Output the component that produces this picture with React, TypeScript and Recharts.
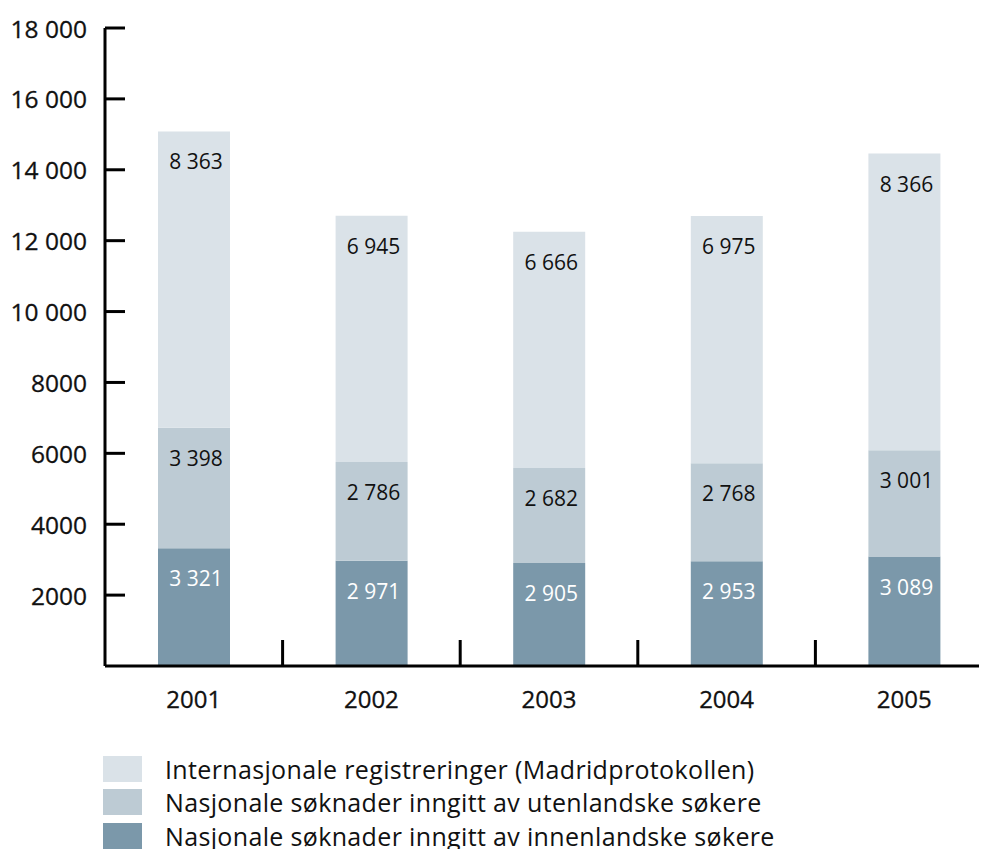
import React from 'react';
import { BarChart, Bar, XAxis, YAxis, LabelList } from 'recharts';

const years = ['2001', '2002', '2003', '2004', '2005'];
const domestic = [3321, 2971, 2905, 2953, 3089];
const foreign = [3398, 2786, 2682, 2768, 3001];
const international = [8363, 6945, 6666, 6975, 8366];
const yTicks = [2000, 4000, 6000, 8000, 10000, 12000, 14000, 16000, 18000];
const yTickLabels = ['2000', '4000', '6000', '8000', '10 000', '12 000', '14 000', '16 000', '18 000'];
const legendLabels = [
  'Internasjonale registreringer (Madridprotokollen)',
  'Nasjonale søknader inngitt av utenlandske søkere',
  'Nasjonale søknader inngitt av innenlandske søkere',
];

const COLORS = {
  international: '#dae2e8',
  foreign: '#bdcbd4',
  domestic: '#7b98aa',
};
const legendColors = [COLORS.international, COLORS.foreign, COLORS.domestic];

const data = years.map((year, i) => ({
  year,
  domestic: domestic[i],
  foreign: foreign[i],
  international: international[i],
}));

const FONT = '"Open Sans", "Noto Sans", sans-serif';
const CHART_W = 985;
const CHART_H = 841;
const MARGIN_TOP = 20;
const Y_AXIS_W = 97;
const X_AXIS_H = 60;
const PLOT_BOTTOM = 658;
const AXIS_X = Y_AXIS_W;
const PLOT_W = CHART_W - Y_AXIS_W;

const fmt = (v: number) =>
  v >= 1000 ? `${Math.floor(v / 1000)} ${String(v % 1000).padStart(3, '0')}` : String(v);

const YTick = (props: any) => {
  const { y, payload } = props;
  const i = yTicks.indexOf(payload.value);
  return (
    <g>
      <line x1={AXIS_X} x2={AXIS_X + 20} y1={y} y2={y} stroke="#000" strokeWidth={3} />
      <text
        x={AXIS_X - 18}
        y={y}
        textAnchor="end"
        dominantBaseline="central"
        fontSize={24.5}
        fontFamily={FONT}
        fill="#111"
        stroke="#111"
        strokeWidth={0.3}
      >
        {yTickLabels[i]}
      </text>
    </g>
  );
};

const XTick = (props: any) => {
  const { x, payload } = props;
  const idx = years.indexOf(payload.value);
  const band = PLOT_W / years.length;
  return (
    <g>
      {idx < years.length - 1 && (
        <line
          x1={x + band / 2}
          x2={x + band / 2}
          y1={PLOT_BOTTOM}
          y2={PLOT_BOTTOM - 26}
          stroke="#000"
          strokeWidth={3}
        />
      )}
      <text
        x={x}
        y={PLOT_BOTTOM + 32}
        textAnchor="middle"
        dominantBaseline="central"
        fontSize={24}
        fontFamily={FONT}
        fill="#111"
        stroke="#111"
        strokeWidth={0.3}
      >
        {payload.value}
      </text>
    </g>
  );
};

const makeLabel = (color: string, dy: number) => (props: any) => {
  const { x, y, width, value } = props;
  return (
    <text
      x={Number(x) + Number(width) / 2 + 2}
      y={Number(y) + dy}
      textAnchor="middle"
      dominantBaseline="central"
      fontSize={21}
      fontFamily={FONT}
      fill={color}
    >
      {fmt(Number(value))}
    </text>
  );
};

export default function App() {
  return (
    <div style={{ position: 'relative', width: 979, height: CHART_H, overflow: 'hidden' }}>
      <BarChart
        width={CHART_W}
        height={CHART_H}
        data={data}
        margin={{ top: MARGIN_TOP, right: 0, left: 0, bottom: CHART_H - PLOT_BOTTOM - X_AXIS_H }}
        barSize={72}
      >
        <XAxis
          dataKey="year"
          height={X_AXIS_H}
          axisLine={{ stroke: '#000', strokeWidth: 3 }}
          tickLine={false}
          tickSize={0}
          tick={<XTick />}
          interval={0}
        />
        <YAxis
          width={Y_AXIS_W}
          domain={[0, 18000]}
          ticks={yTicks}
          axisLine={{ stroke: '#000', strokeWidth: 3 }}
          tickLine={false}
          tickSize={0}
          tick={<YTick />}
          interval={0}
        />
        <Bar dataKey="domestic" stackId="a" fill={COLORS.domestic} isAnimationActive={false}>
          <LabelList dataKey="domestic" content={makeLabel('#ffffff', 30)} />
        </Bar>
        <Bar dataKey="foreign" stackId="a" fill={COLORS.foreign} isAnimationActive={false}>
          <LabelList dataKey="foreign" content={makeLabel('#111111', 30)} />
        </Bar>
        <Bar dataKey="international" stackId="a" fill={COLORS.international} isAnimationActive={false}>
          <LabelList dataKey="international" content={makeLabel('#111111', 30)} />
        </Bar>
      </BarChart>
      <div style={{ position: 'absolute', left: 95, top: 744, fontFamily: FONT }}>
        {legendLabels.map((label, i) => (
          <div key={label} style={{ display: 'flex', alignItems: 'center', height: 33.5 }}>
            <div style={{ width: 39, height: 26, background: legendColors[i] }} />
            <span
              style={{
                marginLeft: 23,
                fontSize: 25,
                letterSpacing: 0.35,
                lineHeight: '30px',
                color: '#111',
                whiteSpace: 'nowrap',
              }}
            >
              {label}
            </span>
          </div>
        ))}
      </div>
    </div>
  );
}
